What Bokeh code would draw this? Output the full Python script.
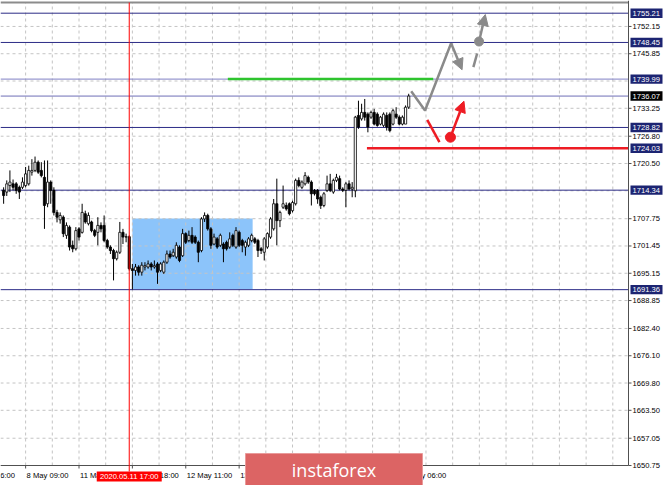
from bokeh.plotting import figure
from bokeh.models import Range1d, Arrow, NormalHead, ColumnDataSource
from bokeh.core.properties import value
from bokeh.embed import file_html
from bokeh.resources import INLINE

# ---- XAUUSD H1 candles (bar number, open, high, low, close) ----
opens = [1714.3, 1713.9, 1715.4, 1715.8, 1715.8, 1715.0, 1715.0, 1715.4, 1715.8, 1718.5,
         1718.9, 1720.8, 1718.9, 1717.3, 1711.2, 1716.2, 1714.3, 1709.2, 1707.5, 1708.1,
         1703.9, 1705.8, 1701.6, 1700.8, 1705.4, 1704.6, 1708.9, 1706.6, 1707.0, 1705.0,
         1704.6, 1706.2, 1706.2, 1702.7, 1701.2, 1700.4, 1698.5, 1700.0, 1704.6, 1703.5,
         1703.6, 1696.2, 1695.8, 1696.6, 1695.4, 1696.6, 1696.6, 1697.3, 1696.6, 1697.3,
         1695.8, 1695.4, 1697.7, 1699.6, 1699.2, 1698.9, 1701.2, 1699.2, 1704.3, 1702.7,
         1703.9, 1703.5, 1702.3, 1700.4, 1707.7, 1708.5, 1705.4, 1701.9, 1703.1, 1701.6,
         1701.9, 1702.3, 1701.2, 1703.9, 1701.2, 1704.6, 1702.7, 1701.2, 1701.6, 1702.7,
         1703.1, 1702.7, 1700.8, 1700.0, 1701.2, 1703.5, 1705.4, 1711.2, 1707.3, 1710.4,
         1710.8, 1711.2, 1709.6, 1711.2, 1716.6, 1715.0, 1715.8, 1717.3, 1716.2, 1714.3,
         1714.3, 1712.7, 1710.8, 1714.3, 1715.8, 1713.9, 1716.6, 1717.0, 1714.6, 1714.3,
         1715.8, 1714.6, 1714.2, 1731.6, 1730.8, 1732.3, 1731.9, 1731.2, 1732.3, 1731.9,
         1729.6, 1729.3, 1731.6, 1731.9, 1729.6, 1731.9, 1731.2, 1729.6, 1729.6, 1733.5]
highs = [1715.0, 1716.6, 1718.9, 1716.8, 1716.2, 1715.4, 1717.3, 1719.7, 1720.0, 1721.5,
         1722.1, 1721.2, 1720.8, 1721.2, 1721.2, 1716.6, 1715.0, 1709.8, 1709.2, 1708.5,
         1706.9, 1706.2, 1702.7, 1705.8, 1705.8, 1711.2, 1709.6, 1709.2, 1707.3, 1705.4,
         1708.1, 1706.9, 1708.5, 1703.1, 1701.6, 1700.8, 1700.4, 1707.0, 1705.4, 1704.3,
         1703.9, 1697.3, 1697.3, 1697.0, 1697.7, 1697.7, 1698.1, 1697.7, 1698.1, 1697.7,
         1697.7, 1698.1, 1700.4, 1700.4, 1700.8, 1702.3, 1701.6, 1705.4, 1704.6, 1705.0,
         1705.8, 1703.9, 1702.7, 1708.1, 1709.2, 1708.9, 1705.8, 1704.3, 1703.5, 1704.3,
         1702.3, 1702.7, 1704.6, 1704.3, 1705.8, 1705.0, 1703.1, 1702.7, 1703.5, 1704.3,
         1703.5, 1703.1, 1701.2, 1703.5, 1704.6, 1708.1, 1712.3, 1717.0, 1709.6, 1715.4,
         1711.5, 1711.5, 1711.9, 1717.0, 1717.3, 1716.6, 1718.5, 1717.7, 1716.6, 1714.6,
         1714.6, 1713.1, 1713.9, 1717.7, 1718.1, 1717.0, 1718.1, 1717.7, 1715.0, 1716.2,
         1716.6, 1716.2, 1731.5, 1735.0, 1734.3, 1735.4, 1732.3, 1732.7, 1733.1, 1732.3,
         1731.5, 1732.3, 1732.3, 1732.3, 1733.1, 1733.5, 1731.6, 1731.6, 1733.9, 1736.6]
lows = [1711.2, 1713.0, 1713.9, 1714.3, 1713.5, 1712.3, 1714.6, 1715.0, 1715.4, 1717.7,
        1718.5, 1718.1, 1717.3, 1705.4, 1710.4, 1711.2, 1708.5, 1706.9, 1706.6, 1703.5,
        1703.1, 1700.4, 1700.0, 1700.4, 1702.7, 1704.3, 1706.6, 1706.2, 1704.6, 1703.5,
        1701.6, 1704.6, 1702.3, 1700.8, 1699.6, 1693.5, 1698.1, 1699.6, 1701.9, 1702.3,
        1695.8, 1691.4, 1694.6, 1694.6, 1694.6, 1695.8, 1696.2, 1695.8, 1696.2, 1692.7,
        1695.4, 1695.0, 1697.3, 1698.5, 1698.9, 1698.5, 1697.7, 1698.9, 1701.9, 1702.3,
        1701.9, 1701.9, 1697.7, 1700.0, 1707.0, 1705.0, 1700.8, 1701.6, 1700.8, 1701.2,
        1697.7, 1700.4, 1700.8, 1701.2, 1700.8, 1701.2, 1700.0, 1699.2, 1701.2, 1702.3,
        1701.9, 1698.9, 1699.6, 1698.1, 1700.8, 1703.1, 1705.0, 1701.6, 1705.8, 1710.0,
        1709.6, 1708.5, 1709.2, 1710.8, 1715.0, 1714.6, 1715.4, 1715.8, 1710.8, 1713.1,
        1711.2, 1710.0, 1710.4, 1713.9, 1713.9, 1713.5, 1716.2, 1714.3, 1713.9, 1710.4,
        1714.3, 1712.7, 1712.7, 1728.5, 1730.4, 1730.4, 1727.7, 1730.8, 1729.3, 1729.0,
        1729.3, 1728.9, 1728.1, 1727.7, 1729.3, 1730.8, 1729.3, 1729.3, 1729.6, 1733.1]
closes = [1713.1, 1715.8, 1716.2, 1715.0, 1714.3, 1713.9, 1716.2, 1718.1, 1718.9, 1718.9,
          1720.8, 1718.5, 1717.7, 1710.8, 1716.2, 1714.3, 1709.2, 1708.1, 1708.5, 1704.3,
          1706.2, 1701.2, 1700.8, 1705.0, 1703.5, 1709.2, 1707.0, 1708.5, 1705.0, 1703.9,
          1706.2, 1705.4, 1702.7, 1701.2, 1700.4, 1698.5, 1700.0, 1704.6, 1703.5, 1703.6,
          1696.2, 1695.8, 1696.6, 1695.4, 1697.0, 1696.9, 1697.3, 1696.6, 1696.9, 1695.4,
          1697.3, 1697.7, 1699.6, 1698.9, 1700.0, 1701.6, 1698.1, 1704.3, 1702.3, 1703.9,
          1702.3, 1702.3, 1700.0, 1707.7, 1708.5, 1705.4, 1701.6, 1703.5, 1701.2, 1703.9,
          1700.8, 1700.8, 1703.1, 1701.6, 1705.0, 1701.6, 1701.6, 1702.3, 1703.1, 1703.9,
          1702.3, 1700.4, 1700.4, 1703.1, 1704.3, 1707.7, 1711.2, 1707.3, 1709.2, 1711.2,
          1710.0, 1708.9, 1711.5, 1716.6, 1715.4, 1716.2, 1717.7, 1716.2, 1713.5, 1713.5,
          1712.3, 1710.8, 1713.5, 1715.8, 1714.3, 1716.6, 1717.3, 1714.6, 1714.3, 1715.8,
          1714.6, 1715.0, 1731.2, 1728.9, 1732.3, 1731.2, 1728.9, 1732.3, 1729.6, 1729.3,
          1731.2, 1731.9, 1728.9, 1728.1, 1732.7, 1731.2, 1729.6, 1731.2, 1733.5, 1736.07]
bars = list(range(1, len(opens) + 1))

# ---- scales: price axis and time axis ----
price_ticks = [1650.75, 1657.05, 1663.50, 1669.80, 1676.10, 1682.40, 1688.85, 1695.15,
               1701.45, 1707.75, 1720.50, 1726.80, 1733.25, 1745.85, 1752.15]
grid_prices = price_ticks + [1714.20, 1739.55]
time_ticks = [-9, 8, 25, 42, 59, 76, 93, 110, 127]
time_labels = ["7 May 16:00", "8 May 09:00", "11 May 01:00", "11 May 18:00", "12 May 11:00",
               "13 May 04:00", "13 May 21:00", "14 May 13:00", "15 May 06:00"]
grid_bars = [8 + 8.5 * i for i in range(0, 23)]

# ---- horizontal levels ----
level_prices = [1755.21, 1748.45, 1739.99, 1736.07, 1728.82, 1714.34, 1691.36]
level_colors = ["#2b2b86", "#2b2b86", "#8080c4", "#6e6eb6", "#2b2b86", "#2b2b86", "#2b2b86"]
tag_prices = [1755.21, 1748.45, 1739.99, 1736.07, 1728.82, 1724.03, 1714.34, 1691.36]
tag_fills = ["#1c2472", "#1c2472", "#1c2472", "#000000", "#1c2472", "#1c2472", "#1c2472", "#1c2472"]

# trading range box (bar span, price span)
zone_bars = [42.0, 80.3]
zone_prices = [1691.5, 1707.8]
marker_bar = 41
marker_text = "2020.05.11 17:00"

# target lines
green_bars = [72.4, 137.8]
green_price = 1739.99
red_bars = [116.7, 200]
red_price = 1724.03

# forecast paths
gray_bars = [130.8, 135.2, 143.5]
gray_prices = [1737.19, 1732.74, 1748.28]
gray_tip = (147.0, 1742.14)
gray_dash_bars = [150.6, 151.8]
gray_dash_prices = [1742.74, 1745.9]
gray_dot = (152.4, 1748.67)
gray_dot_tip = (154.4, 1754.9)
red_stroke_bars = [135.9, 139.8]
red_stroke_prices = [1730.59, 1725.42]
red_dot = (143.3, 1726.57)
red_dot_tip = (147.6, 1734.88)

# ---- geometry of the chart window ----
PX_PER_BAR = 3.14
PX_PER_USD = 4.33
SCALE_BAR = 200           # price scale sits right after the last visible bar slot
TOP_PRICE = 1757.68
BOTTOM_PRICE = 1650.75
W, H = 665, 485


def dx(px):
    return px / PX_PER_BAR


def dy(px):
    return px / PX_PER_USD


GRAY = "#8a8a8a"
RED = "#ee1c24"
AXIS = "#505050"
FONT = value("Liberation Sans")
FSIZE = value("7.6px")

p = figure(width=W, height=H, x_range=Range1d(0, dx(W)),
           y_range=Range1d(TOP_PRICE - dy(H - 2), TOP_PRICE + dy(2)),
           x_axis_location=None, y_axis_location=None,
           output_backend="svg", toolbar_location=None, min_border=0)
p.outline_line_color = None
p.background_fill_color = "white"
p.border_fill_color = "white"
p.xgrid.visible = False
p.ygrid.visible = False

# range box under the grid
p.quad(left=[zone_bars[0]], right=[zone_bars[1]], bottom=[zone_prices[0]],
       top=[zone_prices[1]], fill_color="#8cc4fa", line_color=None)

# dashed grid
p.segment(x0=grid_bars, y0=[BOTTOM_PRICE] * len(grid_bars), x1=grid_bars,
          y1=[TOP_PRICE] * len(grid_bars), line_color="#c4c4c4", line_dash="3 3", line_width=1)
p.segment(x0=[0] * len(grid_prices), y0=grid_prices, x1=[SCALE_BAR] * len(grid_prices),
          y1=grid_prices, line_color="#c4c4c4", line_dash="3 3", line_width=1)

# horizontal levels
p.segment(x0=[0] * len(level_prices), y0=level_prices, x1=[SCALE_BAR] * len(level_prices),
          y1=level_prices, line_color=level_colors, line_width=1)

# candles
src = ColumnDataSource(dict(x=bars, o=opens, h=highs, l=lows, c=closes,
                            top=[max(a, b) for a, b in zip(opens, closes)],
                            bot=[min(a, b) for a, b in zip(opens, closes)],
                            fill=["white" if c >= o else "black" for o, c in zip(opens, closes)]))
p.segment(x0="x", y0="l", x1="x", y1="h", source=src, line_color="black", line_width=1)
p.vbar(x="x", width=0.7, top="top", bottom="bot", source=src, fill_color="fill",
       line_color="black", line_width=0.8)

# target lines
p.line(green_bars, [green_price, green_price], line_color="#2ec42e", line_width=2.5)
p.line(red_bars, [red_price, red_price], line_color=RED, line_width=2.5)

# forecast: gray
p.line(gray_bars, gray_prices, line_color=GRAY, line_width=2.5)
p.add_layout(Arrow(end=NormalHead(size=11, fill_color=GRAY, line_color=GRAY),
                   x_start=gray_bars[-1], y_start=gray_prices[-1],
                   x_end=gray_tip[0], y_end=gray_tip[1], line_color=GRAY, line_width=2.5))
p.line(gray_dash_bars, gray_dash_prices, line_color=GRAY, line_width=2.5)
p.scatter([gray_dot[0]], [gray_dot[1]], size=9, color=GRAY)
p.add_layout(Arrow(end=NormalHead(size=11, fill_color=GRAY, line_color=GRAY),
                   x_start=gray_dot[0], y_start=gray_dot[1],
                   x_end=gray_dot_tip[0], y_end=gray_dot_tip[1], line_color=GRAY, line_width=2.5))
# forecast: red
p.line(red_stroke_bars, red_stroke_prices, line_color=RED, line_width=2.5)
p.scatter([red_dot[0]], [red_dot[1]], size=10, color=RED)
p.add_layout(Arrow(end=NormalHead(size=11, fill_color=RED, line_color=RED),
                   x_start=red_dot[0], y_start=red_dot[1],
                   x_end=red_dot_tip[0], y_end=red_dot_tip[1], line_color=RED, line_width=2.5))

# ---- frame: top border, price axis, time axis ----
p.segment(x0=[0], y0=[TOP_PRICE], x1=[SCALE_BAR], y1=[TOP_PRICE], line_color="#8c8c8c", line_width=2)
p.segment(x0=[SCALE_BAR], y0=[BOTTOM_PRICE], x1=[SCALE_BAR], y1=[TOP_PRICE + dy(2)],
          line_color=AXIS, line_width=1)
p.segment(x0=[0], y0=[BOTTOM_PRICE], x1=[SCALE_BAR], y1=[BOTTOM_PRICE], line_color=AXIS, line_width=1)

# price ticks and labels
p.segment(x0=[SCALE_BAR] * len(price_ticks), y0=price_ticks,
          x1=[SCALE_BAR + dx(3)] * len(price_ticks), y1=price_ticks, line_color=AXIS)
p.text(x=[SCALE_BAR] * len(price_ticks), y=price_ticks, text=[f"{t:.2f}" for t in price_ticks],
       x_offset=4, text_align="left", text_baseline="middle", text_font=FONT,
       text_font_size=FSIZE, text_color="#000000")

# time ticks and labels (left aligned at their ticks)
shown = [t for t in time_ticks if t >= 0]
p.segment(x0=shown, y0=[BOTTOM_PRICE] * len(shown), x1=shown,
          y1=[BOTTOM_PRICE - dy(3)] * len(shown), line_color=AXIS)
p.text(x=time_ticks, y=[BOTTOM_PRICE - dy(10)] * len(time_ticks), text=time_labels,
       x_offset=1, text_align="left", text_baseline="middle", text_font=FONT,
       text_font_size=FSIZE, text_color="#000000")

# current-bar marker: vertical line with its date flag
p.segment(x0=[marker_bar], y0=[BOTTOM_PRICE - dy(6)], x1=[marker_bar], y1=[TOP_PRICE],
          line_color="#ff0000", line_width=1)
p.quad(left=[marker_bar - dx(32.5)], right=[marker_bar + dx(32.5)],
       bottom=[BOTTOM_PRICE - dy(16)], top=[BOTTOM_PRICE - dy(6)],
       fill_color="#ff0000", line_color=None)
p.text(x=[marker_bar], y=[BOTTOM_PRICE - dy(11)], text=[marker_text], text_align="center",
       text_baseline="middle", text_font=FONT, text_font_size=FSIZE, text_color="white")

# level tags on the price scale
p.quad(left=[SCALE_BAR + dx(2)] * len(tag_prices), right=[SCALE_BAR + dx(34)] * len(tag_prices),
       bottom=[t - dy(4.7) for t in tag_prices], top=[t + dy(4.7) for t in tag_prices],
       fill_color=tag_fills, line_color=None)
p.text(x=[SCALE_BAR] * len(tag_prices), y=tag_prices, text=[f"{t:.2f}" for t in tag_prices],
       x_offset=4, text_align="left", text_baseline="middle", text_font=FONT,
       text_font_size=FSIZE, text_color="white")

# brand plate
p.quad(left=[dx(245)], right=[dx(422)], bottom=[TOP_PRICE - dy(H)], top=[BOTTOM_PRICE + dy(12)],
       fill_color="#dc6464", line_color="#e99a9a", line_width=1)
p.text(x=[dx(333.5)], y=[BOTTOM_PRICE - dy(4)], text=["instaforex"], text_align="center",
       text_baseline="middle", text_font=value("Open Sans"), text_font_size=value("18px"),
       text_color="white")

open("out.html", "w").write(file_html(p, INLINE))
